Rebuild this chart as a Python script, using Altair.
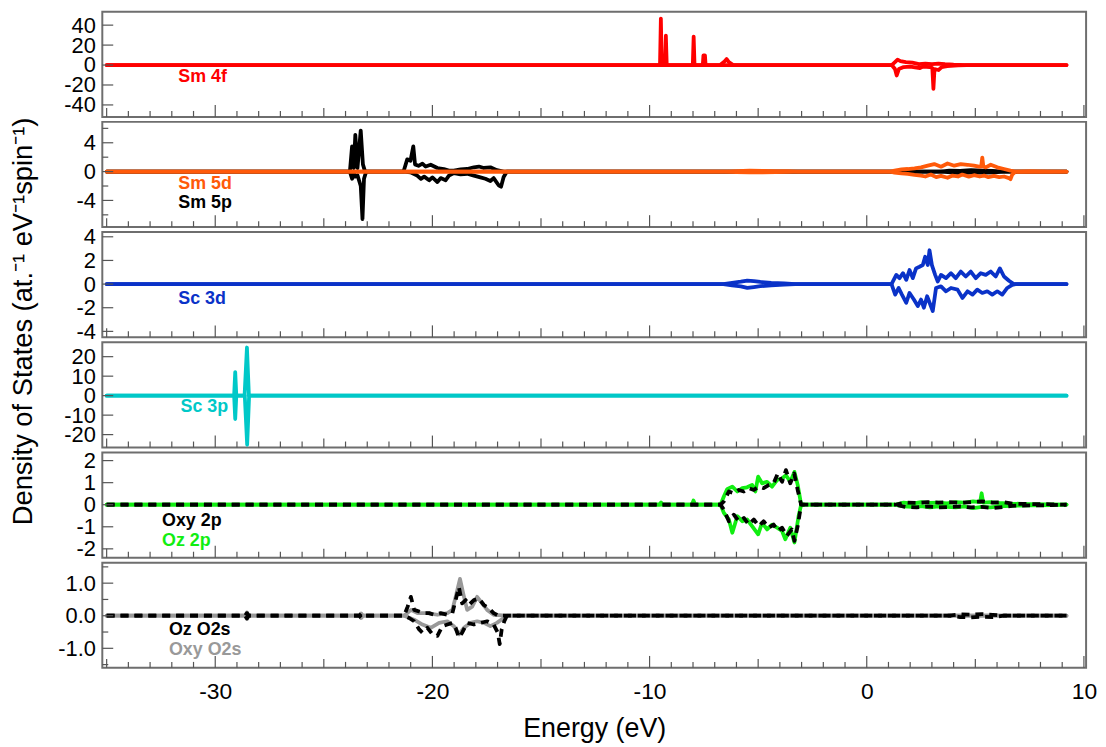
import altair as alt
import pandas as pd

# ---------------- data (energy in eV, DOS values) ----------------
# Panel 1: Sm 4f
sm4f_up_e = [-35.0, -9.52, -9.48, -9.44, -9.29, -9.25, -9.21, -8.01, -7.97, -7.93, -7.55, -7.52, -7.45, -7.42,
             -6.75, -6.55, -6.45, -6.35, -6.15, 1.15, 1.3, 1.42, 1.55, 1.8, 2.1, 2.4, 2.7, 3.0, 3.3, 3.6, 4.0, 4.5, 9.2]
sm4f_up_v = [0, 0, 46.6, 0, 0, 29.5, 0, 0, 28.5, 0, 0, 9.8, 9.8, 0,
             0, 3.5, 6.0, 3.0, 0, 0, 3.0, 5.5, 4.0, 3.0, 2.5, 1.0, 1.5, 1.0, 1.5, 0.8, 0.3, 0, 0]
sm4f_dn_e = [-35.0, 1.15, 1.3, 1.38, 1.48, 1.7, 2.0, 2.3, 2.45, 2.6, 2.9, 3.02, 3.07, 3.12, 3.3, 3.45, 3.7, 4.2, 4.6, 9.2]
sm4f_dn_v = [0, 0, -4.0, -10.5, -4.0, -2.0, -1.5, -2.5, -3.0, -1.5, -2.0, -3.0, -24.0, -4.0, -5.0, -2.0, -1.0, -0.3, 0, 0]

# Panel 2: Sm 5p (black) and Sm 5d (orange)
sm5p_up_e = [-35.0, -23.8, -23.7, -23.62, -23.55, -23.45, -23.3, -23.2, -23.1, -21.33, -21.27, -21.16, -21.01,
             -20.88, -20.80, -20.64, -20.46, -20.31, -20.08, -19.77, -19.47, -19.24, -19.01, -18.70, -18.40,
             -18.09, -17.86, -17.63, -17.33, -17.03, -16.72, 3.4, 3.8, 4.3, 4.8, 5.3, 5.8, 6.3, 9.2]
sm5p_up_v = [0, 0, 3.5, 0.5, 5.1, 0.5, 5.7, 1.0, 0, 0, 0.6, 1.7, 1.5,
             3.5, 1.0, 0.8, 1.1, 0.7, 0.95, 0.5, 0.36, 0.15, 0.15, 0.3, 0.36,
             0.6, 0.7, 0.5, 0.6, 0.2, 0, 0, 0.15, 0.1, 0.2, 0.15, 0.1, 0, 0]
sm5p_dn_e = [-35.0, -23.8, -23.7, -23.6, -23.55, -23.45, -23.3, -23.22, -23.15, -23.05, -21.33, -21.01, -20.70,
             -20.53, -20.38, -20.15, -20.0, -19.77, -19.62, -19.39, -19.24, -19.01, -18.70, -18.40, -18.09,
             -17.79, -17.56, -17.33, -17.18, -16.95, -16.84, -16.72, -16.57, 3.4, 3.9, 4.4, 4.9, 5.4, 5.9, 6.3, 9.2]
sm5p_dn_v = [0, 0, -1.0, -0.3, -0.7, -0.5, -2.0, -6.6, -1.0, 0, 0, -0.1, -0.55,
             -1.0, -0.7, -1.2, -0.8, -1.45, -0.9, -1.2, -0.55, -0.2, -0.4, -0.3, -0.55,
             -0.8, -1.0, -1.3, -0.9, -1.9, -2.1, -0.75, 0, 0, -0.1, -0.2, -0.1, -0.15, -0.1, 0, 0]
sm5d_up_e = [-35.0, -6.6, -6.0, -5.4, -4.8, -4.2, -3.6, -3.2, 1.1, 1.28, 1.6, 1.89, 2.2, 2.5, 2.81, 3.11, 3.42,
             3.72, 4.03, 4.33, 4.64, 4.94, 5.17, 5.27, 5.32, 5.37, 5.48, 5.71, 6.01, 6.32, 6.62, 6.85, 7.5, 8.3, 9.2]
sm5d_up_v = [0, 0, 0.08, 0.12, 0.1, 0.08, 0.05, 0, 0, 0.14, 0.3, 0.36, 0.45, 0.59, 0.82, 1.04, 0.68,
             1.13, 0.82, 1.04, 0.95, 0.82, 0.68, 0.7, 1.95, 0.7, 0.59, 0.95, 0.59, 0.36, 0.14, 0, 0.05, 0.04, 0]
sm5d_dn_e = [-35.0, -6.6, -6.0, -5.4, -4.8, -4.2, -3.6, -3.2, 1.1, 1.28, 1.6, 1.89, 2.2, 2.5, 2.7, 2.95, 3.2,
             3.42, 3.72, 3.95, 4.2, 4.4, 4.7, 4.94, 5.2, 5.4, 5.6, 5.85, 6.1, 6.32, 6.55, 6.62, 6.7, 6.85,
             7.5, 8.3, 9.2]
sm5d_dn_v = [0, 0, -0.08, -0.1, -0.12, -0.08, -0.05, 0, 0, -0.14, -0.25, -0.32, -0.45, -0.55, -0.68, -0.41,
             -0.77, -0.59, -0.86, -0.55, -0.68, -0.41, -0.7, -0.5, -0.68, -0.55, -0.77, -0.6, -0.77, -0.68,
             -0.9, -1.05, -0.4, 0, -0.05, -0.04, 0]

# Panel 3: Sc 3d
sc3d_up_e = [-35.0, -6.6, -6.2, -5.8, -5.5, -5.2, -4.9, -4.4, -3.8, -3.3, 1.14, 1.36, 1.51, 1.67, 1.82, 1.97,
             2.12, 2.27, 2.43, 2.58, 2.69, 2.81, 2.89, 3.0, 3.15, 3.27, 3.42, 3.65, 3.88, 4.1, 4.33, 4.56,
             4.79, 5.02, 5.25, 5.48, 5.71, 5.94, 6.13, 6.32, 6.55, 6.77, 9.2]
sc3d_up_v = [0, 0, 0.1, 0.2, 0.3, 0.25, 0.18, 0.1, 0.05, 0, 0, 0.78, 0.5, 0.92, 0.36, 1.19,
             0.5, 1.33, 1.47, 1.61, 2.31, 1.61, 2.86, 1.61, 0.78, 0.22, 0.78, 0.5, 0.92, 0.5, 1.06, 0.64,
             1.06, 0.5, 0.92, 0.78, 1.06, 0.64, 1.33, 0.64, 0.28, 0, 0]
sc3d_dn_e = [-35.0, -6.6, -6.2, -5.8, -5.5, -5.2, -4.9, -4.4, -3.8, -3.3, 1.14, 1.31, 1.47, 1.62, 1.82, 1.97,
             2.17, 2.35, 2.5, 2.63, 2.78, 3.04, 3.19, 3.42, 3.65, 3.88, 4.18, 4.41, 4.64, 4.87, 5.09, 5.32,
             5.55, 5.78, 6.01, 6.24, 6.47, 6.7, 6.85, 9.2]
sc3d_dn_v = [0, 0, -0.1, -0.2, -0.32, -0.25, -0.18, -0.1, -0.05, 0, 0, -0.89, -0.33, -0.89, -1.58, -0.75,
             -1.31, -1.86, -1.31, -2.0, -1.03, -2.28, -0.33, -0.19, -0.61, -0.33, -0.47, -1.17, -0.61, -0.89,
             -0.47, -0.75, -0.61, -0.89, -0.61, -0.89, -0.33, -0.06, 0, 0]

# Panel 4: Sc 3p
sc3p_up_e = [-35.0, -29.13, -29.08, -29.03, -28.65, -28.54, -28.45, 9.2]
sc3p_up_v = [0, 0, 12.1, 0, 0, 24.7, 0, 0]
sc3p_dn_e = [-35.0, -29.13, -29.08, -29.03, -28.64, -28.53, -28.44, 9.2]
sc3p_dn_v = [0, 0, -12.0, 0, 0, -25.2, 0, 0]

# Panel 5: Oz 2p (green) and Oxy 2p (black dashed)
oz2p_up_e = [-35.0, -9.55, -9.47, -9.4, -8.05, -7.98, -7.9, -6.73, -6.58, -6.43, -6.19, -5.96, -5.73, -5.51,
             -5.28, -5.13, -5.0, -4.82, -4.59, -4.36, -4.13, -3.9, -3.72, -3.52, -3.33, -3.18, -3.02, 1.3, 1.7,
             2.1, 2.5, 2.9, 3.3, 3.7, 4.1, 4.5, 4.9, 5.22, 5.29, 5.36, 5.7, 6.1, 6.6, 7.5, 8.5, 9.2]
oz2p_up_v = [0, 0, 0.1, 0, 0, 0.19, 0, 0, 0.37, 0.7, 0.82, 0.6, 0.75, 0.79,
             0.9, 0.6, 1.27, 0.97, 1.04, 0.82, 1.12, 1.19, 1.34, 1.04, 1.49, 0.9, 0, 0, 0.1,
             0.05, 0.12, 0.08, 0.1, 0.06, 0.12, 0.1, 0.15, 0.12, 0.52, 0.1, 0.12, 0.08, 0.05, 0.03, 0.02, 0]
oz2p_dn_e = [-35.0, -6.73, -6.58, -6.35, -6.19, -5.96, -5.73, -5.51, -5.28, -5.0, -4.82, -4.59, -4.36, -4.13,
             -3.9, -3.75, -3.52, -3.33, -3.14, -3.02, 1.3, 1.7, 2.1, 2.5, 2.9, 3.3, 3.7, 4.1, 4.5, 4.9, 5.3,
             5.7, 6.1, 6.6, 7.5, 8.5, 9.2]
oz2p_dn_v = [0, 0, -0.37, -0.67, -1.27, -0.52, -0.75, -0.67, -0.97, -1.34, -0.82, -1.12, -0.9, -1.04,
             -1.19, -1.57, -1.04, -1.71, -0.52, 0, 0, -0.08, -0.1, -0.06, -0.12, -0.08, -0.1, -0.12, -0.08,
             -0.15, -0.1, -0.12, -0.08, -0.05, -0.03, -0.02, 0]
oxy2p_up_e = [-35.0, -6.73, -6.58, -6.35, -6.12, -5.89, -5.66, -5.43, -5.2, -4.97, -4.75, -4.52, -4.29, -4.09,
              -3.9, -3.72, -3.52, -3.34, -3.18, -3.02, 1.3, 1.8, 2.3, 2.8, 3.3, 3.8, 4.3, 4.8, 5.3, 5.8, 6.3,
              6.7, 7.5, 8.5, 9.2]
oxy2p_up_v = [0, 0, 0.15, 0.6, 0.52, 0.67, 0.6, 0.75, 0.67, 0.82, 0.75, 0.89, 0.97, 1.42,
              1.04, 1.57, 0.97, 1.42, 0.67, 0, 0, 0.1, 0.08, 0.12, 0.1, 0.12, 0.08, 0.12, 0.15, 0.1, 0.12,
              0.05, 0.03, 0.02, 0]
oxy2p_dn_e = [-35.0, -6.73, -6.58, -6.35, -6.12, -5.89, -5.66, -5.43, -5.2, -4.97, -4.75, -4.52, -4.29, -4.09,
              -3.9, -3.68, -3.45, -3.33, -3.18, -3.02, 1.3, 1.8, 2.3, 2.8, 3.3, 3.8, 4.3, 4.8, 5.3, 5.8, 6.3,
              6.7, 7.5, 8.5, 9.2]
oxy2p_dn_v = [0, 0, -0.22, -0.75, -0.45, -0.75, -0.6, -0.9, -0.67, -0.97, -0.75, -1.04, -0.9, -1.19,
              -1.04, -1.42, -1.12, -1.64, -0.97, 0, 0, -0.1, -0.12, -0.08, -0.12, -0.1, -0.08, -0.12, -0.1,
              -0.15, -0.1, -0.05, -0.03, -0.02, 0]

# Panel 6: Oxy O2s (gray) and Oz O2s (black dashed)
oxyo2s_up_e = [-35.0, -28.62, -28.54, -28.46, -23.36, -23.28, -23.2, -21.3, -20.99, -20.69, -20.23, -19.77,
               -19.31, -19.08, -18.93, -18.73, -18.58, -18.4, -18.17, -17.94, -17.71, -17.48, -17.18, -16.57, 9.2]
oxyo2s_up_v = [0, 0, 0.1, 0, 0, 0.07, 0, 0, 0.18, 0.08, 0.08, 0.03,
               0.08, 0.18, 0.58, 1.13, 0.68, 0.18, 0.28, 0.58, 0.38, 0.18, 0.03, 0, 0]
oxyo2s_dn_e = [-35.0, -28.62, -28.54, -28.46, -23.36, -23.28, -23.2, -21.3, -20.84, -20.46, -20.08, -19.69,
               -19.31, -19.01, -18.78, -18.55, -18.25, -17.94, -17.63, -17.33, -17.03, -16.57, 9.2]
oxyo2s_dn_v = [0, 0, -0.1, 0, 0, -0.07, 0, 0, -0.12, -0.27, -0.37, -0.22,
               -0.17, -0.32, -0.57, -0.37, -0.22, -0.17, -0.22, -0.32, -0.22, 0, 0]
oz2s_up_e = [-35.0, -28.62, -28.54, -28.46, -23.36, -23.28, -23.2, -21.3, -21.14, -20.99, -20.84, -20.61,
             -20.38, -20.15, -19.92, -19.62, -19.31, -19.08, -18.93, -18.78, -18.63, -18.47, -18.32, -18.09,
             -17.86, -17.63, -17.4, -17.18, -16.95, 3.8, 4.3, 4.8, 5.3, 5.8, 6.3, 9.2]
oz2s_up_v = [0, 0, 0.08, 0, 0, 0.06, 0, 0, 0.28, 0.58, 0.18, 0.13,
             0.08, 0.08, 0.03, 0.08, 0.03, 0.08, 0.48, 0.88, 0.38, 0.48, 0.33, 0.48,
             0.53, 0.33, 0.23, 0.08, 0, 0, 0.04, 0.03, 0.05, 0.03, 0, 0]
oz2s_dn_e = [-35.0, -28.62, -28.54, -28.46, -23.36, -23.28, -23.2, -21.3, -21.07, -20.84, -20.61, -20.46,
             -20.23, -20.0, -19.77, -19.54, -19.31, -19.08, -18.93, -18.78, -18.63, -18.4, -18.09, -17.79,
             -17.48, -17.18, -16.99, -16.9, -16.81, -16.69, -16.57, 3.8, 4.3, 4.8, 5.3, 5.8, 6.3, 9.2]
oz2s_dn_v = [0, 0, -0.08, 0, 0, -0.06, 0, 0, -0.07, -0.17, -0.42, -0.52,
             -0.37, -0.57, -0.62, -0.32, -0.27, -0.22, -0.37, -0.67, -0.52, -0.22, -0.27, -0.22,
             -0.17, -0.27, -0.52, -0.87, -0.42, -0.17, 0, 0, -0.04, -0.05, -0.03, -0.04, 0, 0]

# axis ticks / labels
x_label_vals = [-30, -20, -10, 0, 10]
x_mid_ticks = [-35, -25, -15, -5, 5]
x_minor_ticks = [v for v in range(-34, 10) if v % 5 != 0]

y1_ticks, y1_minor = [-40, -20, 0, 20, 40], []
y2_ticks, y2_minor = [-4, 0, 4], [-6, -2, 2, 6]
y3_ticks, y3_minor = [-4, -2, 0, 2, 4], []
y4_ticks, y4_minor = [-20, -10, 0, 10, 20], []
y5_ticks, y5_minor = [-2, -1, 0, 1, 2], []
y6_ticks, y6_minor = [-1, 0, 1], [-1.5, -0.5, 0.5, 1.5]

y1_dom = [-52, 53.5]
y2_dom = [-7.7, 6.9]
y3_dom = [-4.5, 4.4]
y4_dom = [-26.6, 27.4]
y5_dom = [-2.4, 2.37]
y6_dom = [-1.6, 1.63]

RED, ORANGE, BLUE, TEAL, GREEN, GRAY = "#ff0000", "#ff5a0a", "#0a32c8", "#00c8c8", "#11ee11", "#999999"

label_text = ["Sm 4f", "Sm 5d", "Sm 5p", "Sc 3d", "Sc 3p", "Oxy 2p", "Oz 2p", "Oz O2s", "Oxy O2s"]
label_e = [-31.7, -31.7, -31.7, -31.7, -31.6, -32.45, -32.45, -32.13, -32.13]
label_v = [-12.5, -1.73, -4.3, -1.25, -5.9, -0.76, -1.66, -0.43, -1.04]
label_col = [RED, ORANGE, "black", BLUE, TEAL, "black", GREEN, "black", GRAY]
label_panel = [1, 2, 2, 3, 4, 5, 5, 6, 6]

Y_TITLE = "Density of States (at.\u207b\u00b9 eV\u207b\u00b9spin\u207b\u00b9)"
X_TITLE = "Energy (eV)"

# ---------------- chart ----------------
FONT = "Liberation Sans"
PW, PH = 991, 106
X_DOMAIN = [-35.2, 10.1]
TICK = "#555555"
MINUS_FIX = "replace(datum.label, '\u2212', '-')"


def xenc(bottom):
    if bottom:
        axis = alt.Axis(values=x_label_vals, ticks=False, domain=False, grid=False, labelFontSize=23,
                        labelFont=FONT, labelColor="black", labelPadding=13, labelFlush=False,
                        labelOverlap=False, labelExpr=MINUS_FIX, title=X_TITLE, titleFont=FONT,
                        titleFontSize=27, titleFontWeight="normal", titleColor="black", titlePadding=12)
    else:
        axis = None
    return alt.X("E:Q", scale=alt.Scale(domain=X_DOMAIN, nice=False, zero=False), axis=axis)


def yenc(dom, vals, fmt=None):
    kw = dict(values=vals, ticks=False, domain=False, grid=False, labelFontSize=22, labelFont=FONT,
              labelColor="black", labelPadding=7, labelFlush=False, labelOverlap=False,
              labelExpr=MINUS_FIX, title=None, minExtent=94, maxExtent=94)
    if fmt:
        kw["format"] = fmt
    return alt.Y("V:Q", scale=alt.Scale(domain=dom, nice=False, zero=False), axis=alt.Axis(**kw))


def panel(idx, curves, dom, major, minor, bottom=False, fmt=None, extra=None):
    X = xenc(bottom)
    Y = yenc(dom, major, fmt)
    layers = []
    for e, v, color, dashed in curves:
        df = pd.DataFrame({"E": e, "V": v, "i": list(range(len(e)))})
        kw = dict(color=color, strokeWidth=3.8, strokeJoin="round")
        if dashed:
            kw.update(strokeDash=[8, 6], strokeCap="butt")
        else:
            kw.update(strokeCap="round")
        layers.append(alt.Chart(df).mark_line(**kw).encode(x=X, y=Y, order="i:Q"))
    for vals, ln in [(x_label_vals, 12), (x_mid_ticks, 9), (x_minor_ticks, 6)]:
        layers.append(alt.Chart(pd.DataFrame({"E": vals})).mark_rule(color=TICK, strokeWidth=1.2)
                      .encode(x=X, y=alt.value(PH), y2=alt.value(PH - ln)))
    for vals, ln in [(major, 11), (minor, 6)]:
        if vals:
            layers.append(alt.Chart(pd.DataFrame({"V": vals})).mark_rule(color=TICK, strokeWidth=1.2)
                          .encode(y=Y, x=alt.value(0), x2=alt.value(ln)))
    for t, e, v, c, p in zip(label_text, label_e, label_v, label_col, label_panel):
        if p == idx:
            layers.append(alt.Chart(pd.DataFrame({"E": [e], "V": [v], "T": [t]}))
                          .mark_text(align="left", baseline="middle", fontSize=18, fontWeight="bold",
                                     font=FONT, color=c)
                          .encode(x=X, y=Y, text="T:N"))
    if extra is not None:
        layers.append(extra)
    return alt.layer(*layers).properties(width=PW, height=PH)


ytitle_layer = (alt.Chart(pd.DataFrame({"T": [Y_TITLE]}))
                .mark_text(angle=270, align="center", baseline="alphabetic", fontSize=27.5, font=FONT,
                           color="black")
                .encode(x=alt.value(-71), y=alt.value(90), text="T:N"))

p1 = panel(1, [(sm4f_up_e, sm4f_up_v, RED, False), (sm4f_dn_e, sm4f_dn_v, RED, False)],
           y1_dom, y1_ticks, y1_minor)
p2 = panel(2, [(sm5p_up_e, sm5p_up_v, "black", False), (sm5p_dn_e, sm5p_dn_v, "black", False),
               (sm5d_up_e, sm5d_up_v, ORANGE, False), (sm5d_dn_e, sm5d_dn_v, ORANGE, False)],
           y2_dom, y2_ticks, y2_minor)
p3 = panel(3, [(sc3d_up_e, sc3d_up_v, BLUE, False), (sc3d_dn_e, sc3d_dn_v, BLUE, False)],
           y3_dom, y3_ticks, y3_minor, extra=ytitle_layer)
p4 = panel(4, [(sc3p_up_e, sc3p_up_v, TEAL, False), (sc3p_dn_e, sc3p_dn_v, TEAL, False)],
           y4_dom, y4_ticks, y4_minor)
p5 = panel(5, [(oz2p_up_e, oz2p_up_v, GREEN, False), (oz2p_dn_e, oz2p_dn_v, GREEN, False),
               (oxy2p_up_e, oxy2p_up_v, "black", True), (oxy2p_dn_e, oxy2p_dn_v, "black", True)],
           y5_dom, y5_ticks, y5_minor)
p6 = panel(6, [(oxyo2s_up_e, oxyo2s_up_v, GRAY, False), (oxyo2s_dn_e, oxyo2s_dn_v, GRAY, False),
               (oz2s_up_e, oz2s_up_v, "black", True), (oz2s_dn_e, oz2s_dn_v, "black", True)],
           y6_dom, y6_ticks, y6_minor, bottom=True, fmt=".1f")

chart = (alt.vconcat(p1, p2, p3, p4, p5, p6, spacing=5, bounds="flush")
         .properties(padding={"left": 0, "top": 0, "right": 0, "bottom": 0})
         .configure(font=FONT)
         .configure_view(stroke="#6e6e6e", strokeWidth=2))

chart.save("out.html", embed_options={"renderer": "svg", "actions": False})
